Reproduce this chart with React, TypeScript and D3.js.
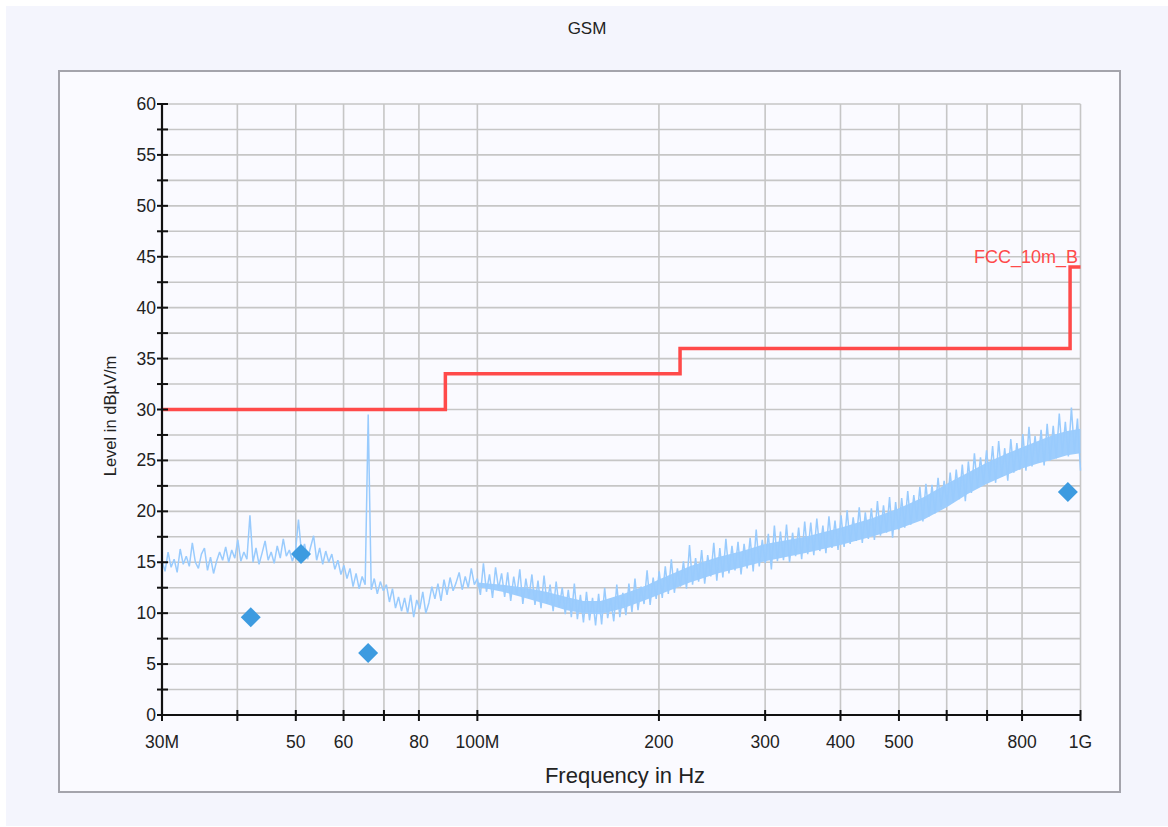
import React from 'react';
import * as d3 from 'd3';

// sweep segment 1: 30 MHz .. 100 MHz (log spaced sweep points)
const sweepLowMHz = [30, 100];
const sweepLowLevel = [
  15.2, 14.1, 16.0, 14.5, 15.3, 14.0, 16.3, 14.8, 15.6, 14.6,
  16.9, 15.0, 14.4, 15.8, 16.4, 14.2, 15.5, 13.9, 15.1, 16.0,
  15.2, 16.5, 15.0, 16.2, 15.4, 17.2, 15.1, 16.0, 15.3, 19.6,
  15.0, 16.4, 14.8, 15.9, 17.1, 15.2, 16.0, 14.9, 16.6, 15.4,
  17.3, 15.6, 16.2, 15.1, 16.0, 19.2, 15.9, 16.8, 15.3, 16.5,
  17.6, 15.2, 16.4, 14.8, 16.1, 15.0, 15.8, 14.3, 15.2, 13.8,
  14.7, 13.4, 14.4, 12.6, 13.9, 12.4, 13.6, 12.8, 29.5, 12.3,
  13.4, 11.9, 13.1, 12.2, 12.8, 11.1, 12.4, 10.5, 11.6, 10.2,
  11.5, 10.0, 11.8, 9.6, 11.3, 10.4, 12.1, 10.0, 11.0, 12.6,
  11.4, 12.9, 11.2, 13.3, 11.8, 13.5, 12.2, 13.0, 14.0, 12.3,
  13.6, 12.5, 14.4, 12.8, 13.4,
];

// sweep segment 2: 100 MHz .. 1 GHz
const sweepHighMHz = [100, 1000];
const sweepHighLevel = [
  14.2, 11.8, 14.9, 12.1, 13.8, 11.5, 14.5, 12.4, 13.9, 11.6,
  14.0, 11.2, 13.6, 11.8, 14.3, 10.9, 13.4, 11.5, 13.8, 10.8,
  13.2, 10.5, 13.7, 10.9, 12.8, 10.2, 13.1, 10.6, 12.5, 9.9,
  12.3, 9.6, 12.9, 9.4, 11.8, 9.1, 12.1, 9.3, 11.5, 8.8,
  11.9, 8.9, 12.5, 9.5, 11.4, 9.2, 12.8, 9.6, 12.0, 9.8,
  12.9, 10.1, 13.4, 10.3, 12.6, 10.9, 14.2, 10.8, 13.5, 11.4,
  14.1, 11.5, 14.6, 11.9, 15.3, 12.0, 14.4, 12.6, 15.1, 12.4,
  16.7, 12.8, 15.4, 13.1, 16.2, 12.9, 15.7, 13.6, 16.9, 13.2,
  16.4, 13.5, 17.3, 13.9, 16.6, 14.2, 17.0, 13.8, 16.8, 14.4,
  17.4, 14.1, 18.2, 14.6, 17.2, 14.9, 17.8, 14.3, 18.6, 15.1,
  18.0, 15.2, 18.7, 15.0, 17.9, 15.6, 18.4, 15.3, 19.0, 15.8,
  18.9, 15.7, 19.3, 16.1, 18.6, 15.9, 19.5, 16.4, 19.1, 16.2,
  19.6, 16.5, 20.1, 16.8, 19.4, 17.1, 20.4, 16.9, 19.9, 17.3,
  20.3, 17.2, 21.0, 17.6, 20.6, 17.9, 21.4, 17.4, 20.9, 18.2,
  21.3, 18.4, 22.0, 18.7, 21.6, 19.2, 22.4, 19.0, 22.7, 19.5,
  22.6, 19.8, 23.3, 20.4, 23.0, 20.6, 23.8, 20.9, 24.1, 21.2,
  24.6, 21.0, 24.9, 21.8, 25.7, 22.3, 25.3, 22.7, 26.0, 23.1,
  26.4, 22.8, 26.9, 23.4, 26.2, 23.0, 27.1, 23.8, 26.7, 24.1,
  27.6, 24.0, 28.3, 24.4, 27.4, 24.8, 28.0, 24.5, 28.6, 25.0,
  28.4, 25.2, 29.6, 25.6, 28.8, 25.4, 30.2, 25.8, 29.1, 24.0,
];

// dense noise floor of the sweep above 100 MHz (min / max envelope)
const bandMHz = [
  100, 110, 120, 130, 140, 150, 160, 175, 190, 200, 225, 250, 275, 300,
  350, 400, 450, 500, 550, 600, 650, 700, 750, 800, 850, 900, 950, 1000,
];
const bandLo = [
  12.6, 12.1, 11.5, 10.9, 10.3, 10.0, 9.9, 10.5, 11.3, 11.8, 13.0, 13.9, 14.5, 15.1,
  15.9, 16.7, 17.5, 18.3, 19.2, 20.4, 21.7, 22.7, 23.5, 24.2, 24.7, 25.1, 25.5, 25.7,
];
const bandHi = [
  13.0, 12.8, 12.5, 12.1, 11.6, 11.2, 11.2, 11.9, 12.7, 13.3, 14.6, 15.5, 16.1, 16.8,
  17.5, 18.4, 19.3, 20.3, 21.4, 22.7, 23.8, 24.8, 25.6, 26.3, 26.9, 27.5, 27.9, 28.1,
];

// FCC class B limit, 10 m
const limitMHz = [30, 88.5, 216.8, 961, 1000];
const limitLevel = [30, 33.5, 36, 44, 44];

// final measurement points
const measMHz = [42.1, 51.0, 65.9, 953];
const measLevel = [9.6, 15.8, 6.1, 21.9];

const gridMHz = [40, 50, 60, 70, 80, 100, 200, 300, 400, 500, 600, 700, 800, 1000];
const tickMHz = [30, ...gridMHz];
const tickLabels: [number, string][] = [
  [30, '30M'], [50, '50'], [60, '60'], [80, '80'], [100, '100M'],
  [200, '200'], [300, '300'], [400, '400'], [500, '500'], [800, '800'], [1000, '1G'],
];
const yMajor = d3.range(0, 61, 5);
const yMinor = d3.range(2.5, 60, 5);

const W = 1168, H = 827;
const L = 162, R = 1080.5, T = 104, B = 715;
const font = 'Arial, "Liberation Sans", Helvetica, sans-serif';

const sweep = ([a, b]: number[], vals: number[]) =>
  vals.map((v, i) => [a * Math.pow(b / a, i / (vals.length - 1)), v] as [number, number]);

export default function App() {
  const x = d3.scaleLog().domain([30, 1000]).range([L, R]);
  const y = d3.scaleLinear().domain([0, 60]).range([B, T]);

  const line = d3.line<[number, number]>().x((d) => x(d[0])).y((d) => y(d[1]));
  const stepLine = d3.line<[number, number]>().x((d) => x(d[0])).y((d) => y(d[1])).curve(d3.curveStepAfter);
  const area = d3
    .area<number>()
    .x((i) => x(bandMHz[i]))
    .y0((i) => y(bandLo[i]))
    .y1((i) => y(bandHi[i]));

  const trace = [...sweep(sweepLowMHz, sweepLowLevel), ...sweep(sweepHighMHz, sweepHighLevel).slice(1)];
  const limit = limitMHz.map((f, i) => [f, limitLevel[i]] as [number, number]);
  const diamond = d3.symbol(d3.symbolSquare, 200)();

  return (
    <svg width={W} height={H} style={{ position: 'absolute', left: 0, top: 0 }}>
      <rect x={0} y={0} width={W} height={H} fill="#ffffff" />
      <rect x={6} y={6} width={W - 6} height={H - 7} fill="#f4f5fd" />
      <rect x={59} y={71} width={1061} height={721} fill="#fafaff" stroke="#a4a4ac" strokeWidth={2} />

      <text x={587} y={34} textAnchor="middle" fontFamily={font} fontSize={17} fill="#222">GSM</text>

      {/* grid */}
      {d3.range(0, 61, 2.5).map((v) => (
        <line key={'h' + v} x1={L} x2={R} y1={y(v)} y2={y(v)} stroke="#c6c6c6" strokeWidth={1.6} />
      ))}
      {gridMHz.map((f) => (
        <line key={'v' + f} x1={x(f)} x2={x(f)} y1={T} y2={B} stroke="#c6c6c6" strokeWidth={1.6} />
      ))}

      {/* measured trace */}
      <path d={area(d3.range(bandMHz.length)) ?? ''} fill="#9dcdfd" />
      <path d={line(trace) ?? ''} fill="none" stroke="#99cbfd" strokeWidth={1.5} strokeLinejoin="bevel" />

      {/* limit */}
      <path d={stepLine(limit) ?? ''} fill="none" stroke="#ff4a4a" strokeWidth={3.5} />
      <text x={1078} y={263} textAnchor="end" fontFamily={font} fontSize={18} fill="#ff4a4a">FCC_10m_B</text>

      {/* final measurements */}
      {measMHz.map((f, i) => (
        <path key={f} d={diamond ?? ''} transform={`translate(${x(f)},${y(measLevel[i])}) rotate(45)`} fill="#3d9be0" />
      ))}

      {/* axes */}
      <line x1={L} x2={L} y1={T} y2={B + 1} stroke="#111" strokeWidth={2.2} />
      <line x1={L - 1} x2={R} y1={B} y2={B} stroke="#111" strokeWidth={2.2} />
      {[...yMajor, ...yMinor].map((v) => (
        <line key={'yt' + v} x1={L - 5} x2={L + 6} y1={y(v)} y2={y(v)} stroke="#111" strokeWidth={2} />
      ))}
      {yMajor.map((v) => (
        <text key={'yl' + v} x={L - 6} y={y(v) + 6} textAnchor="end" fontFamily={font} fontSize={17.5} fill="#222">{v}</text>
      ))}
      {tickMHz.map((f) => (
        <line key={'xt' + f} x1={x(f)} x2={x(f)} y1={B - 5} y2={B + 6} stroke="#111" strokeWidth={2} />
      ))}
      {tickLabels.map(([f, s]) => (
        <text key={'xl' + f} x={x(f)} y={748} textAnchor="middle" fontFamily={font} fontSize={17.5} fill="#222">{s}</text>
      ))}

      <text x={625} y={783} textAnchor="middle" fontFamily={font} fontSize={22} fill="#222">Frequency in Hz</text>
      <text transform="translate(116,416) rotate(-90)" textAnchor="middle" fontFamily={font} fontSize={16.5} fill="#222">Level in dBµV/m</text>
    </svg>
  );
}
